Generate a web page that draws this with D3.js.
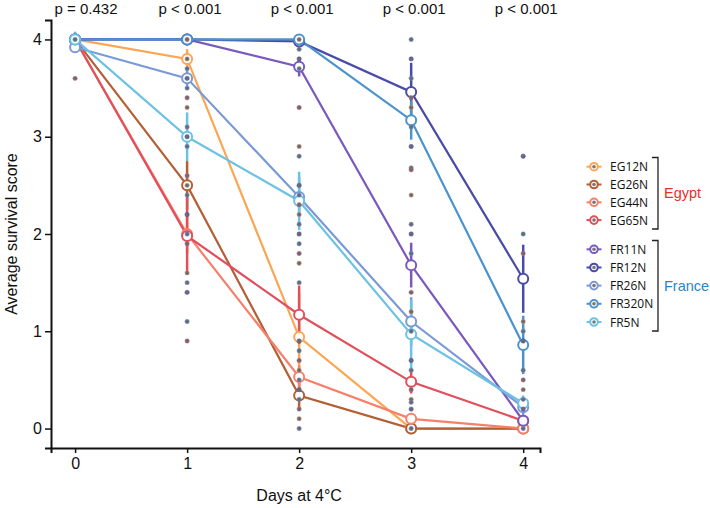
<!DOCTYPE html>
<html><head><meta charset="utf-8">
<script src="https://cdn.jsdelivr.net/npm/d3@7"></script>
<style>body{margin:0;background:#fff}svg{display:block}text{font-family:"Liberation Sans",Arial,sans-serif}</style>
</head><body><svg id="c" width="710" height="508"></svg>
<script>
const days = [0, 1, 2, 3, 4];
const pLabels = ["p = 0.432", "p < 0.001", "p < 0.001", "p < 0.001", "p < 0.001"];
const strains = ["EG12N", "EG26N", "EG44N", "EG65N", "FR11N", "FR12N", "FR26N", "FR320N", "FR5N"];
const colors = ["#FBA653", "#B35F36", "#F7806B", "#E04F5B", "#7A59BF", "#4A4BA8", "#7A9AD6", "#4B93CC", "#6CC2E3"];
const EG12N = [4, 3.8, 0.94, 0, 0];
const EG26N = [4, 2.5, 0.34, 0, 0];
const EG44N = [4, 2.0, 0.53, 0.1, 0];
const EG65N = [4, 1.98, 1.17, 0.48, 0.08];
const FR11N = [4, 4, 3.72, 1.68, 0.08];
const FR12N = [4, 4, 3.98, 3.46, 1.54];
const FR26N = [3.92, 3.6, 2.38, 1.1, 0.22];
const FR320N = [4, 4, 4, 3.17, 0.86];
const FR5N = [4, 3.0, 2.34, 0.97, 0.26];
const EG12N_se = [0, 0.1, 0.45, 0, 0];
const EG26N_se = [0, 0.25, 0.15, 0, 0];
const EG44N_se = [0, 0.2, 0.12, 0.05, 0];
const EG65N_se = [0, 0.4, 0.3, 0.12, 0.05];
const FR11N_se = [0, 0, 0.1, 0.23, 0.05];
const FR12N_se = [0, 0, 0.02, 0.3, 0.35];
const FR26N_se = [0.05, 0.08, 0.2, 0.25, 0.08];
const FR320N_se = [0, 0, 0, 0.2, 0.3];
const FR5N_se = [0.08, 0.25, 0.3, 0.35, 0.08];
const dots0 = [4.0, 3.6];
const dots1 = [4.0, 3.8, 3.7, 3.6, 3.5, 3.4, 3.3, 3.1, 3.0, 2.9, 2.6, 2.5, 2.4, 2.2, 2.0, 1.9, 1.6, 1.5, 1.4, 1.1, 0.9];
const dots2 = [4.0, 3.9, 3.8, 3.7, 3.3, 2.9, 2.8, 2.5, 2.4, 2.3, 2.2, 2.1, 2.0, 1.9, 1.8, 1.7, 1.5, 0.9, 0.8, 0.7, 0.6, 0.5, 0.4, 0.3, 0.2, 0.1, 0.0];
const dots3 = [4.0, 3.8, 3.6, 3.4, 3.3, 3.1, 2.9, 2.68, 2.66, 2.4, 2.1, 2.0, 1.8, 1.4, 1.2, 1.0, 0.7, 0.6, 0.4, 0.3, 0.27, 0.2, 0.0];
const dots4 = [2.8, 2.0, 1.8, 1.1, 1.0, 0.9, 0.6, 0.5, 0.4, 0.3, 0.2, 0.0];
const dotColors = ["#5B9BD5", "#E06666", "#E8A05A", "#7A9AD6", "#4A4BA8"];

const means = [EG12N, EG26N, EG44N, EG65N, FR11N, FR12N, FR26N, FR320N, FR5N];
const ses = [EG12N_se, EG26N_se, EG44N_se, EG65N_se, FR11N_se, FR12N_se, FR26N_se, FR320N_se, FR5N_se];
const dotsByDay = [dots0, dots1, dots2, dots3, dots4];

const svg = d3.select("#c");
const x = d3.scaleLinear().domain([-0.215, 4.15]).range([51, 540]);
const y = d3.scaleLinear().domain([-0.2, 4.2]).range([448, 20]);

// axes
const yAxis = d3.axisLeft(y).tickValues([0, 1, 2, 3, 4]).tickFormat(d3.format("d")).tickSize(6).tickPadding(3);
const gy = svg.append("g").attr("transform", "translate(51,0)").call(yAxis);
gy.select(".domain").attr("stroke", "#111").attr("stroke-width", 2);
gy.selectAll(".tick line").attr("stroke", "#111").attr("stroke-width", 1.5);
gy.selectAll(".tick text").attr("font-size", 16).attr("fill", "#111");
const xAxis = d3.axisBottom(x).tickValues(days).tickFormat(d3.format("d")).tickSize(5).tickPadding(5);
const gx = svg.append("g").attr("transform", "translate(0,448)").call(xAxis);
gx.select(".domain").attr("stroke", "#111").attr("stroke-width", 2);
gx.selectAll(".tick line").attr("stroke", "#111").attr("stroke-width", 1.5);
gx.selectAll(".tick text").attr("font-size", 16).attr("fill", "#111");

svg.append("text").attr("x", x(2)).attr("y", 501).attr("text-anchor", "middle").attr("font-size", 16).attr("fill", "#111").text("Days at 4°C");
svg.append("text").attr("transform", "translate(17,234) rotate(-90)").attr("text-anchor", "middle").attr("font-size", 16).attr("fill", "#111").text("Average survival score");

svg.selectAll(".pl").data(pLabels).join("text").attr("x", (d, i) => x(days[i]) + (i === 0 ? 11 : 3)).attr("y", 13.5)
  .attr("text-anchor", "middle").attr("font-size", 15).attr("fill", "#111").text(d => d);

// mean circle white backgrounds
means.forEach((m, s) => {
  svg.append("g").selectAll("circle").data(m).join("circle")
    .attr("cx", (d, i) => x(days[i])).attr("cy", d => y(d)).attr("r", 4.5)
    .attr("fill", "#fff").attr("stroke", "none");
});

// error bars
means.forEach((m, s) => {
  const g = svg.append("g");
  g.selectAll("line").data(days.filter(d => ses[s][d] > 0)).join("line")
    .attr("x1", d => x(d)).attr("x2", d => x(d))
    .attr("y1", d => y(m[d] + ses[s][d])).attr("y2", d => y(m[d] - ses[s][d]))
    .attr("stroke", colors[s]).attr("stroke-width", 2.5);
});

// lines
const line = d3.line().x((d, i) => x(days[i])).y(d => y(d));
means.forEach((m, s) => {
  svg.append("path").datum(m).attr("d", line).attr("fill", "none").attr("stroke", colors[s]).attr("stroke-width", 2.2);
});
// mean points
means.forEach((m, s) => {
  svg.append("g").selectAll("circle").data(m).join("circle")
    .attr("cx", (d, i) => x(days[i])).attr("cy", d => y(d)).attr("r", 5)
    .attr("fill", "#fff").attr("stroke", colors[s]).attr("stroke-width", 2);
});

// dots
dotsByDay.forEach((arr, i) => {
  svg.append("g").selectAll("circle").data(arr).join("circle")
    .attr("cx", x(days[i])).attr("cy", d => y(d)).attr("r", 2.2)
    .attr("fill", "#6a6a7a").attr("stroke", (d, j) => dotColors[(j + i) % dotColors.length]).attr("stroke-opacity", 0.6).attr("stroke-width", 0.8);
});

// legend
const legY = [166.7, 184.5, 202.3, 220.1, 249.3, 267.5, 285.6, 303.8, 322];
const leg = svg.append("g");
strains.forEach((name, i) => {
  const g = leg.append("g").attr("transform", `translate(594,${legY[i]})`);
  g.append("line").attr("x1", -7.5).attr("x2", 7.5).attr("stroke", colors[i]).attr("stroke-width", 2);
  g.append("circle").attr("r", 3.8).attr("fill", "#fff").attr("stroke", colors[i]).attr("stroke-width", 2);
  g.append("circle").attr("r", 1.8).attr("fill", "#777");
  g.append("text").attr("x", 16).attr("y", 4.5).attr("font-size", 12).attr("fill", "#111")
    .style("font-family", "'Open Sans', sans-serif").text(name);
});
function bracket(y0, y1) {
  leg.append("path").attr("d", `M652,${y0}H658V${y1}H652`).attr("fill", "none").attr("stroke", "#222").attr("stroke-width", 1.3);
}
bracket(157.5, 229);
bracket(240.5, 331);
leg.append("text").attr("x", 664).attr("y", 197.5).attr("font-size", 14.5).attr("fill", "#E8302A").text("Egypt");
leg.append("text").attr("x", 664).attr("y", 290.5).attr("font-size", 14.5).attr("fill", "#2D86C4").text("France");
</script></body></html>
